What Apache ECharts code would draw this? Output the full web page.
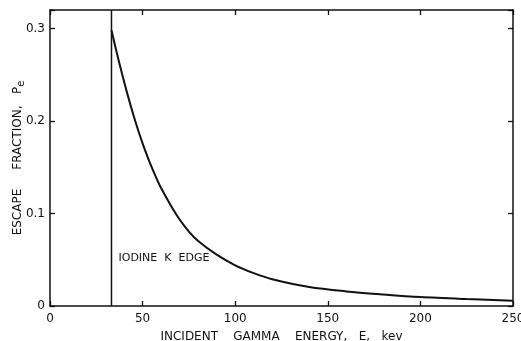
<!DOCTYPE html>
<html>
<head>
<meta charset="utf-8">
<script src="https://cdn.jsdelivr.net/npm/echarts@6/dist/echarts.min.js"></script>
<style>html,body{margin:0;padding:0;background:#fff}#c{width:521px;height:341px}</style>
</head>
<body>
<div id="c"></div>
<script>
// Data
var energy = [33.2, 36, 39, 42, 45, 48, 51, 54, 57, 60, 65, 70, 75, 80, 90, 100, 110, 120, 140, 160, 180, 200, 225, 250];
var escape = [0.298, 0.2742, 0.2502, 0.2277, 0.2067, 0.1875, 0.1701, 0.1545, 0.1404, 0.1275, 0.1095, 0.0935, 0.0805, 0.0703, 0.0555, 0.044, 0.0355, 0.029, 0.0205, 0.0158, 0.0125, 0.0097, 0.0075, 0.0057];
var kEdge = 33.2;
var xTicks = [0, 50, 100, 150, 200, 250];
var yTicks = [0, 0.1, 0.2, 0.3];
var edgeLabel = 'IODINE  K  EDGE';

var chart = echarts.init(document.getElementById('c'));
var font = 'DejaVu Sans';
var axisLine = {show: true, onZero: false, lineStyle: {color: '#111', width: 1.5}};
var tick = {show: true, inside: true, length: 5, lineStyle: {color: '#111', width: 1.3}};
function yFmt(v) {
  for (var i = 0; i < yTicks.length; i++) if (Math.abs(v - yTicks[i]) < 1e-6) return String(yTicks[i]);
  return '';
}
chart.setOption({
  animation: false,
  backgroundColor: '#fff',
  grid: {left: 50, right: 8, top: 10, bottom: 35, outerBoundsMode: 'none', containLabel: false},
  xAxis: [{
    type: 'value', min: 0, max: 250, interval: 50, position: 'bottom',
    axisLine: axisLine, axisTick: tick, splitLine: {show: false},
    axisLabel: {color: '#111', fontFamily: font, fontSize: 12, margin: 7},
    name: 'INCIDENT    GAMMA    ENERGY,   E,   kev', nameLocation: 'middle', nameGap: 25,
    nameMoveOverlap: false,
    nameTextStyle: {color: '#111', fontFamily: font, fontSize: 12}
  }, {
    type: 'value', min: 0, max: 250, interval: 50, position: 'top',
    axisLine: axisLine, axisTick: tick, splitLine: {show: false}, axisLabel: {show: false}
  }],
  yAxis: [{
    type: 'value', min: 0, max: 0.32, interval: 0.1, position: 'left',
    axisLine: axisLine, axisTick: tick, splitLine: {show: false},
    axisLabel: {color: '#111', fontFamily: font, fontSize: 12, margin: 5, formatter: yFmt},
    name: 'ESCAPE     FRACTION,   P{s|e}', nameLocation: 'middle', nameGap: 24, nameRotate: 90,
    nameMoveOverlap: false,
    nameTextStyle: {color: '#111', fontFamily: font, fontSize: 12,
      rich: {s: {fontSize: 10, fontFamily: font, color: '#111', verticalAlign: 'bottom', padding: [6, 0, 0, 0]}}}
  }, {
    type: 'value', min: 0, max: 0.32, interval: 0.1, position: 'right',
    axisLine: axisLine, axisTick: tick, splitLine: {show: false}, axisLabel: {show: false}
  }],
  series: [{
    type: 'line', xAxisIndex: 0, yAxisIndex: 0,
    data: energy.map(function (e, i) { return [e, escape[i]]; }),
    smooth: 0.3, showSymbol: false, lineStyle: {color: '#111', width: 2}
  }, {
    type: 'line', xAxisIndex: 0, yAxisIndex: 0,
    data: [[kEdge, 0], [kEdge, 0.32]],
    showSymbol: false, lineStyle: {color: '#111', width: 1.5},
    markPoint: {
      symbol: 'rect', symbolSize: 0,
      data: [{coord: [kEdge, 0.052], value: edgeLabel}],
      label: {show: true, position: 'right', distance: 7, formatter: edgeLabel,
        color: '#111', fontFamily: font, fontSize: 11}
    }
  }]
});
</script>
</body>
</html>
